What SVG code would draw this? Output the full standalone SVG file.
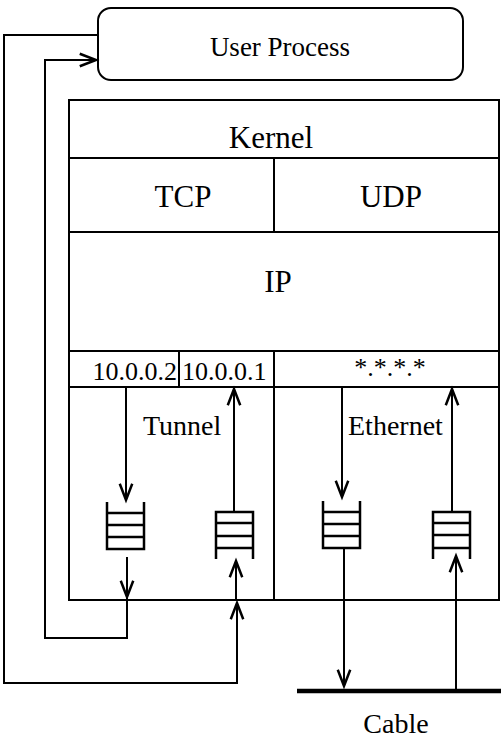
<svg xmlns="http://www.w3.org/2000/svg" width="501" height="739" viewBox="0 0 501 739">
<defs>
<marker id="ah" markerUnits="userSpaceOnUse" markerWidth="20" markerHeight="20" viewBox="-14 -8 16 16" refX="0" refY="0" orient="auto" overflow="visible">
<path d="M-13,-5 L0,0 L-13,5" fill="none" stroke="#000" stroke-width="2"/>
</marker>
</defs>
<style>
.ln{fill:none;stroke:#000;stroke-width:2}
.q{fill:none;stroke:#000;stroke-width:2.5}
text{fill:#000}
</style>
<rect width="501" height="739" fill="#fff"/>
<g font-family="'Times New Roman', Tinos, 'Liberation Serif', 'DejaVu Serif', serif">
<g id="user-process">
<rect class="ln" x="98" y="8" width="365" height="72" rx="13"/>
<text x="280" y="56" font-size="27" text-anchor="middle">User Process</text>
</g>
<g id="kernel">
<rect class="ln" x="69" y="100" width="430" height="500"/>
<line class="ln" x1="69" y1="158" x2="499" y2="158"/>
<text x="271" y="148" font-size="31" text-anchor="middle">Kernel</text>
</g>
<g id="tcp">
<line class="ln" x1="69" y1="232" x2="499" y2="232"/>
<line class="ln" x1="274" y1="158" x2="274" y2="232"/>
<text x="183" y="207" font-size="31" text-anchor="middle">TCP</text>
</g>
<g id="udp">
<text x="391" y="207" font-size="31" text-anchor="middle">UDP</text>
</g>
<g id="ip">
<text x="278" y="292" font-size="31" text-anchor="middle">IP</text>
</g>
<g id="addresses">
<line class="ln" x1="69" y1="351" x2="499" y2="351"/>
<line class="ln" x1="69" y1="387" x2="499" y2="387"/>
<line class="ln" x1="179" y1="351" x2="179" y2="387"/>
<line class="ln" x1="274" y1="351" x2="274" y2="600"/>
<text x="177" y="380" font-size="26" text-anchor="end">10.0.0.2</text>
<text x="182" y="380" font-size="26">10.0.0.1</text>
<text x="390" y="376" font-size="26" text-anchor="middle">*.*.*.*</text>
</g>
<g id="tunnel">
<text x="143" y="435" font-size="28">Tunnel</text>
<path class="q" d="M107,502 V549 H144 V502 M107,513 H144 M107,525 H144 M107,537 H144"/>
<path class="q" d="M216,559 V512 H253 V559 M216,523 H253 M216,536 H253 M216,548 H253"/>
</g>
<g id="ethernet">
<text x="348" y="435" font-size="28">Ethernet</text>
<path class="q" d="M323,501 V548 H360 V501 M323,512 H360 M323,524 H360 M323,536 H360"/>
<path class="q" d="M433,559 V512 H470 V559 M433,523 H470 M433,535 H470 M433,548 H470"/>
</g>
<g id="cable">
<line x1="297" y1="691" x2="501" y2="691" stroke="#000" stroke-width="4.5"/>
<text x="396" y="733" font-size="28" text-anchor="middle">Cable</text>
</g>
</g>
<g id="connectors">
<line class="ln" x1="126" y1="387" x2="126" y2="500" marker-end="url(#ah)"/>
<line class="ln" x1="127" y1="557" x2="127" y2="597" marker-end="url(#ah)"/>
<polyline class="ln" points="127,597 127,638 45,638 45,60 96,60" marker-end="url(#ah)"/>
<line class="ln" x1="234" y1="512" x2="234" y2="389" marker-end="url(#ah)"/>
<line class="ln" x1="236" y1="600" x2="236" y2="561" marker-end="url(#ah)"/>
<polyline class="ln" points="98,35 4,35 4,683 237,683 237,603" marker-end="url(#ah)"/>
<line class="ln" x1="342" y1="387" x2="342" y2="497" marker-end="url(#ah)"/>
<line class="ln" x1="344" y1="548" x2="344" y2="686" marker-end="url(#ah)"/>
<line class="ln" x1="452" y1="512" x2="452" y2="389" marker-end="url(#ah)"/>
<line class="ln" x1="456" y1="691" x2="456" y2="556" marker-end="url(#ah)"/>
</g>
</svg>
